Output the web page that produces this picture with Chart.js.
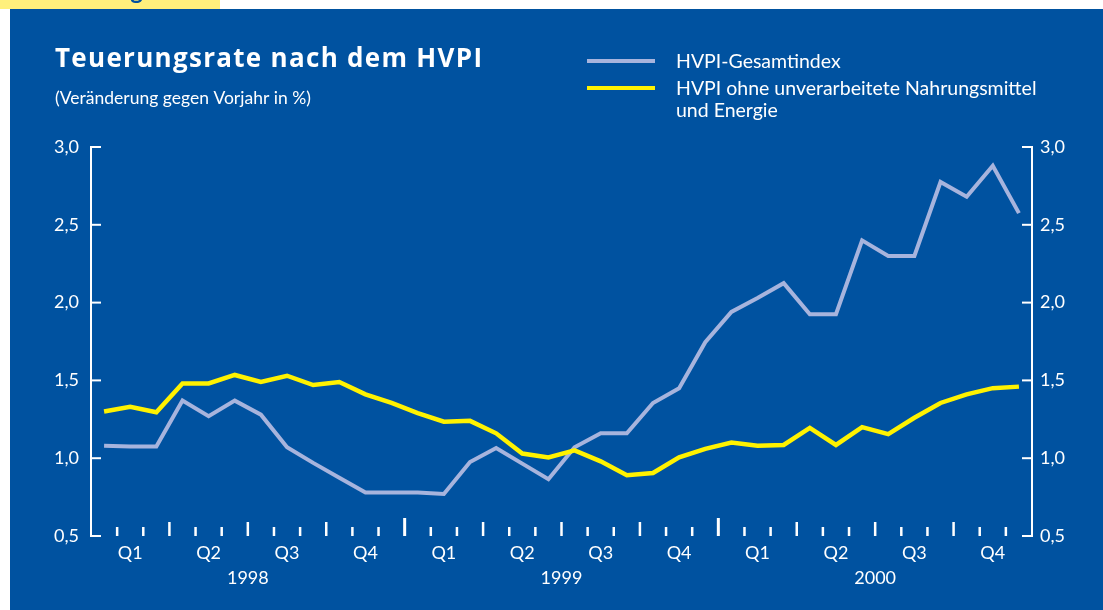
<!DOCTYPE html>
<html>
<head>
<meta charset="utf-8">
<script src="https://cdn.jsdelivr.net/npm/chart.js@4.4.1/dist/chart.umd.min.js"></script>
<style>
html,body{margin:0;padding:0;background:#fff;}
#wrap{width:1103px;height:610px;position:relative;}
</style>
</head>
<body>
<div id="wrap"><canvas id="c" width="1103" height="610"></canvas></div>
<script>
// ---- data ----
const months = ["1998-01","1998-02","1998-03","1998-04","1998-05","1998-06","1998-07","1998-08","1998-09","1998-10","1998-11","1998-12",
                "1999-01","1999-02","1999-03","1999-04","1999-05","1999-06","1999-07","1999-08","1999-09","1999-10","1999-11","1999-12",
                "2000-01","2000-02","2000-03","2000-04","2000-05","2000-06","2000-07","2000-08","2000-09","2000-10","2000-11","2000-12"];
const quarterLabels = ["Q1","Q2","Q3","Q4"];
const yearLabels = ["1998","1999","2000"];
const hvpiTotal = [1.08,1.075,1.075,1.37,1.27,1.37,1.28,1.07,0.97,0.875,0.78,0.78,
                   0.78,0.77,0.975,1.065,0.965,0.865,1.07,1.16,1.16,1.355,1.45,1.745,
                   1.94,2.03,2.125,1.925,1.925,2.40,2.30,2.30,2.775,2.68,2.88,2.575];
const hvpiCore = [1.30,1.33,1.295,1.48,1.48,1.535,1.49,1.53,1.47,1.49,1.41,1.355,
                  1.29,1.235,1.24,1.16,1.03,1.005,1.05,0.98,0.89,0.905,1.005,1.06,
                  1.10,1.08,1.085,1.195,1.085,1.20,1.155,1.26,1.355,1.41,1.45,1.46];
const yTicks = [0.5,1.0,1.5,2.0,2.5,3.0];
const seriesNames = ["HVPI-Gesamtindex", "HVPI ohne unverarbeitete Nahrungsmittel\nund Energie"];
const titleText = "Teuerungsrate nach dem HVPI";
const subtitleText = "(Veränderung gegen Vorjahr in %)";

const BLUE = "#0052A0";
const GRAY = "#A7B4DD";
const YELLOW = "#FFF200";
const FONT = "Lato, 'Open Sans', sans-serif";
const TFONT = "'Open Sans', Lato, sans-serif";

const fmt = v => v.toFixed(1).replace(".", ",");

const decor = {
  id: "decor",
  beforeDraw(chart) {
    const ctx = chart.ctx;
    ctx.save();
    ctx.fillStyle = "#ffffff";
    ctx.fillRect(0, 0, 1103, 610);
    ctx.fillStyle = "#FFF07C";
    ctx.fillRect(0, 0, 220, 9);
    ctx.fillStyle = BLUE;
    ctx.font = "bold 24px " + FONT;
    ctx.textAlign = "right";
    ctx.textBaseline = "alphabetic";
    ctx.save();
    ctx.beginPath(); ctx.rect(0,0,220,9); ctx.clip();
    ctx.fillText("Teuerung", 143, -1);
    ctx.restore();
    ctx.fillStyle = BLUE;
    ctx.fillRect(10, 9, 1093, 601);
    ctx.restore();
  },
  afterDraw(chart) {
    const ctx = chart.ctx;
    const x = chart.scales.x, y = chart.scales.y;
    const area = chart.chartArea;
    ctx.save();
    // titles
    ctx.fillStyle = "#ffffff";
    ctx.textAlign = "left";
    ctx.textBaseline = "alphabetic";
    ctx.font = "bold 26px " + TFONT;
    ctx.letterSpacing = "1.3px";
    ctx.fillText(titleText, 55, 67);
    ctx.letterSpacing = "0px";
    ctx.font = "17.5px " + FONT;
    ctx.textBaseline = "middle";
    ctx.fillText(subtitleText, 55, 98);
    // legend
    const ds = chart.data.datasets;
    const legY = [61, 88];
    ds.forEach((d, i) => {
      ctx.strokeStyle = d.borderColor;
      ctx.lineWidth = 4;
      ctx.beginPath();
      ctx.moveTo(587, legY[i]); ctx.lineTo(655, legY[i]); ctx.stroke();
      ctx.fillStyle = "#ffffff";
      ctx.font = "19.5px " + FONT;
      d.label.split("\n").forEach((ln, k) => ctx.fillText(ln, 676, legY[i] + 1 + k * 22));
    });
    // y inner ticks
    ctx.strokeStyle = "#ffffff";
    ctx.lineWidth = 2;
    yTicks.forEach(v => {
      const py = y.getPixelForValue(v);
      ctx.beginPath(); ctx.moveTo(area.left, py); ctx.lineTo(area.left + 10, py); ctx.stroke();
      ctx.beginPath(); ctx.moveTo(area.right, py); ctx.lineTo(area.right - 10, py); ctx.stroke();
    });
    // x ticks at month boundaries
    for (let i = 1; i < months.length; i++) {
      const px = (x.getPixelForValue(i - 1) + x.getPixelForValue(i)) / 2;
      let top = 527, w = 2.5;
      if (i % 12 === 0) { top = 518; w = 3; }
      else if (i % 3 === 0) { top = 522; }
      ctx.lineWidth = w;
      ctx.beginPath(); ctx.moveTo(px, top); ctx.lineTo(px, area.bottom); ctx.stroke();
    }
    // quarter and year labels
    ctx.fillStyle = "#ffffff";
    ctx.font = "18px " + FONT;
    ctx.textAlign = "center";
    ctx.textBaseline = "middle";
    for (let q = 0; q < months.length / 3; q++) {
      const px = x.getPixelForValue(q * 3 + 1);
      ctx.fillText(quarterLabels[q % 4], px, 553);
    }
    yearLabels.forEach((yl, k) => {
      const px = (x.getPixelForValue(k * 12 + 5) + x.getPixelForValue(k * 12 + 6)) / 2;
      ctx.fillText(yl, px, 578);
    });
    ctx.restore();
  }
};

const yCommon = {
  min: 0.5, max: 3.0,
  grid: { drawOnChartArea: false, drawTicks: false },
  border: { display: true, color: "#ffffff", width: 2 },
  ticks: { stepSize: 0.5, color: "#ffffff", font: { size: 18, family: FONT }, callback: v => fmt(v) }
};

new Chart(document.getElementById("c"), {
  type: "line",
  data: {
    labels: months,
    datasets: [
      { label: seriesNames[0], data: hvpiTotal, borderColor: GRAY, borderWidth: 4, order: 2 },
      { label: seriesNames[1], data: hvpiCore, borderColor: YELLOW, borderWidth: 4.5, order: 1 }
    ]
  },
  options: {
    responsive: false,
    animation: false,
    devicePixelRatio: 1,
    layout: { padding: { top: 147, bottom: 74, left: 0, right: 0 } },
    elements: { point: { radius: 0 }, line: { tension: 0, borderJoinStyle: "miter", borderCapStyle: "butt" } },
    plugins: { legend: { display: false }, title: { display: false }, tooltip: { enabled: false } },
    scales: {
      x: { type: "category", offset: true, display: false },
      y: Object.assign({}, yCommon, { position: "left",
           ticks: Object.assign({}, yCommon.ticks, { padding: 12 }),
           afterFit: s => { s.width = 91; } }),
      y2: Object.assign({}, yCommon, { position: "right",
           ticks: Object.assign({}, yCommon.ticks, { padding: 8 }),
           afterFit: s => { s.width = 71; } })
    }
  },
  plugins: [decor]
});
</script>
</body>
</html>
